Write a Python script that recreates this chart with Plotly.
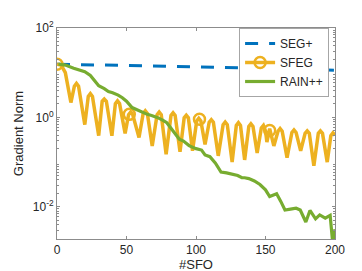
import plotly.graph_objects as go

# ---- data ----
seg_x = [0, 50, 100, 150, 200]
seg_y = [15.5, 14.5, 13.5, 12.6, 11.4]

sfeg_x = [0, 3, 6, 10, 12.5, 14, 15.5, 20, 22.5, 24, 25.5, 30, 32.5, 34, 35.5, 39.5,
          42, 43.5, 45, 49, 51.5, 53, 54.5, 59, 62, 63.5, 65, 68.5, 72, 73.5, 75, 78.5,
          82, 83.5, 85, 88.5, 91.5, 93, 94.5, 97.5, 100.5, 102, 103.5, 106.5, 109.5, 111, 112.5,
          116, 119.5, 121, 122.5, 126, 129, 130.5, 132, 135, 138, 139.5, 141, 144, 147, 148.5,
          150, 151, 153, 156, 159, 160.5, 162, 165.5, 169, 170.5, 172, 175.3, 178.5, 180, 181.5,
          184.8, 188, 189.5, 191, 194.4, 197, 198.5, 200]
sfeg_y = [15.5, 14.8, 10.0, 2.15, 5.0, 5.75, 5.0, 0.69, 2.95, 3.39, 2.95, 0.39, 2.29, 2.57, 2.29, 0.39,
          2.04, 2.34, 2.04, 0.44, 1.15, 1.32, 1.15, 0.355, 1.23, 1.41, 1.23, 0.23, 1.15, 1.32, 1.15, 0.15,
          1.1, 1.26, 1.1, 0.17, 0.98, 1.12, 0.98, 0.18, 0.83, 0.95, 0.83, 0.25, 0.78, 0.89, 0.78,
          0.138, 0.69, 0.79, 0.69, 0.1, 0.66, 0.76, 0.66, 0.112, 0.63, 0.72, 0.63, 0.16, 0.58, 0.66,
          0.5, 0.28, 0.56, 0.23, 0.49, 0.56, 0.49, 0.126, 0.46, 0.525, 0.46, 0.178, 0.44, 0.5, 0.44,
          0.083, 0.44, 0.5, 0.44, 0.1, 0.39, 0.45, 0.4]
sfeg_mark_x = [0, 52, 102.5, 153]
sfeg_mark_y = [15.5, 1.17, 0.91, 0.51]

rain_x = [1, 6, 12, 17, 20, 24, 27, 30, 34, 37, 40, 44, 47, 50, 54, 58, 61, 65, 68, 72,
          76, 79, 82, 85, 88, 91, 95, 100, 104, 106.5, 110, 114, 118, 122, 126.5, 130, 133,
          135, 138, 142, 146, 150, 153, 158, 161, 164, 168, 172, 175, 179, 182, 186, 189, 193,
          196.5, 198.5, 200]
rain_y = [15.5, 14.8, 12.6, 11.5, 10.5, 8.7, 6.6, 5.1, 4.4, 3.8, 3.55, 3.16, 2.75, 2.3, 1.66,
          1.45, 1.29, 1.17, 1.1, 1.0, 0.87, 0.76, 0.575, 0.417, 0.324, 0.295, 0.234, 0.2, 0.186,
          0.145, 0.132, 0.095, 0.06, 0.0575, 0.0537, 0.05, 0.0447, 0.0447, 0.0427, 0.038, 0.0316,
          0.024, 0.017, 0.0195, 0.0132, 0.0085, 0.0089, 0.0093, 0.0085, 0.00457, 0.0083, 0.00537,
          0.0066, 0.0056, 0.00646, 0.0014, 0.00316]

y_tickvals = [0.01, 1, 100]
y_ticktext = ["10<sup>-2</sup>", "10<sup>0</sup>", "10<sup>2</sup>"]
x_tickvals = [0, 50, 100, 150, 200]

BLUE = "#0072BD"
YELLOW = "#EDB120"
GREEN = "#77AC30"
AXC = "#8c8c8c"
TXT = "#262626"
FONT = "Liberation Sans, Arial, sans-serif"

minor_vals = []
for dec in [0.001, 0.01, 0.1, 1, 10]:
    for k in range(2, 10):
        minor_vals.append(k * dec)

fig = go.Figure()
fig.add_trace(go.Scatter(x=seg_x, y=seg_y, mode="lines", name="SEG+",
                         line=dict(color=BLUE, width=3, dash="13px,11px")))
fig.add_trace(go.Scatter(x=sfeg_x, y=sfeg_y, mode="lines", showlegend=False,
                         line=dict(color=YELLOW, width=3.5)))
fig.add_trace(go.Scatter(x=sfeg_mark_x, y=sfeg_mark_y, mode="markers", showlegend=False,
                         marker=dict(symbol="circle-open", size=11, color=YELLOW,
                                     line=dict(width=2.5, color=YELLOW))))
fig.add_trace(go.Scatter(x=[None], y=[None], mode="lines+markers", name="SFEG",
                         line=dict(color=YELLOW, width=3.5),
                         marker=dict(symbol="circle-open", size=11, color=YELLOW,
                                     line=dict(width=2.5, color=YELLOW))))
fig.add_trace(go.Scatter(x=rain_x, y=rain_y, mode="lines", name="RAIN++",
                         line=dict(color=GREEN, width=3.2)))

fig.update_layout(
    width=362, height=271,
    margin=dict(l=48.5, r=34.5, t=20, b=40),
    paper_bgcolor="white", plot_bgcolor="white",
    font=dict(family=FONT, size=12, color=TXT),
    showlegend=True,
    legend=dict(x=0.655, y=1.0, xanchor="left", yanchor="top",
                bgcolor="white", bordercolor="#a6a6a6", borderwidth=1,
                font=dict(family=FONT, size=12, color=TXT),
                tracegroupgap=0, itemwidth=30),
    annotations=[dict(text="Gradient Norm", xref="paper", yref="paper",
                      x=-0.138, y=0.5, xanchor="center", yanchor="middle",
                      textangle=-90, showarrow=False,
                      font=dict(family=FONT, size=13, color=TXT))],
)
fig.update_xaxes(range=[0, 200], tickvals=x_tickvals, ticks="inside", ticklen=3,
                 tickcolor=AXC, showline=True, linecolor=AXC, linewidth=1, mirror="ticks",
                 showgrid=False, zeroline=False, automargin=False,
                 title=dict(text="#SFO", standoff=0, font=dict(size=13)),
                 tickfont=dict(size=12))
fig.update_yaxes(type="log", range=[-2.72, 2.0], tickvals=y_tickvals, ticktext=y_ticktext,
                 ticks="inside", ticklen=3, tickcolor=AXC, showline=True, linecolor=AXC,
                 linewidth=1, mirror="ticks", showgrid=False, zeroline=False, automargin=False,
                 minor=dict(tickvals=minor_vals, ticks="inside", ticklen=2, tickcolor=AXC),
                 tickfont=dict(size=12))

fig.write_html("out.html")
